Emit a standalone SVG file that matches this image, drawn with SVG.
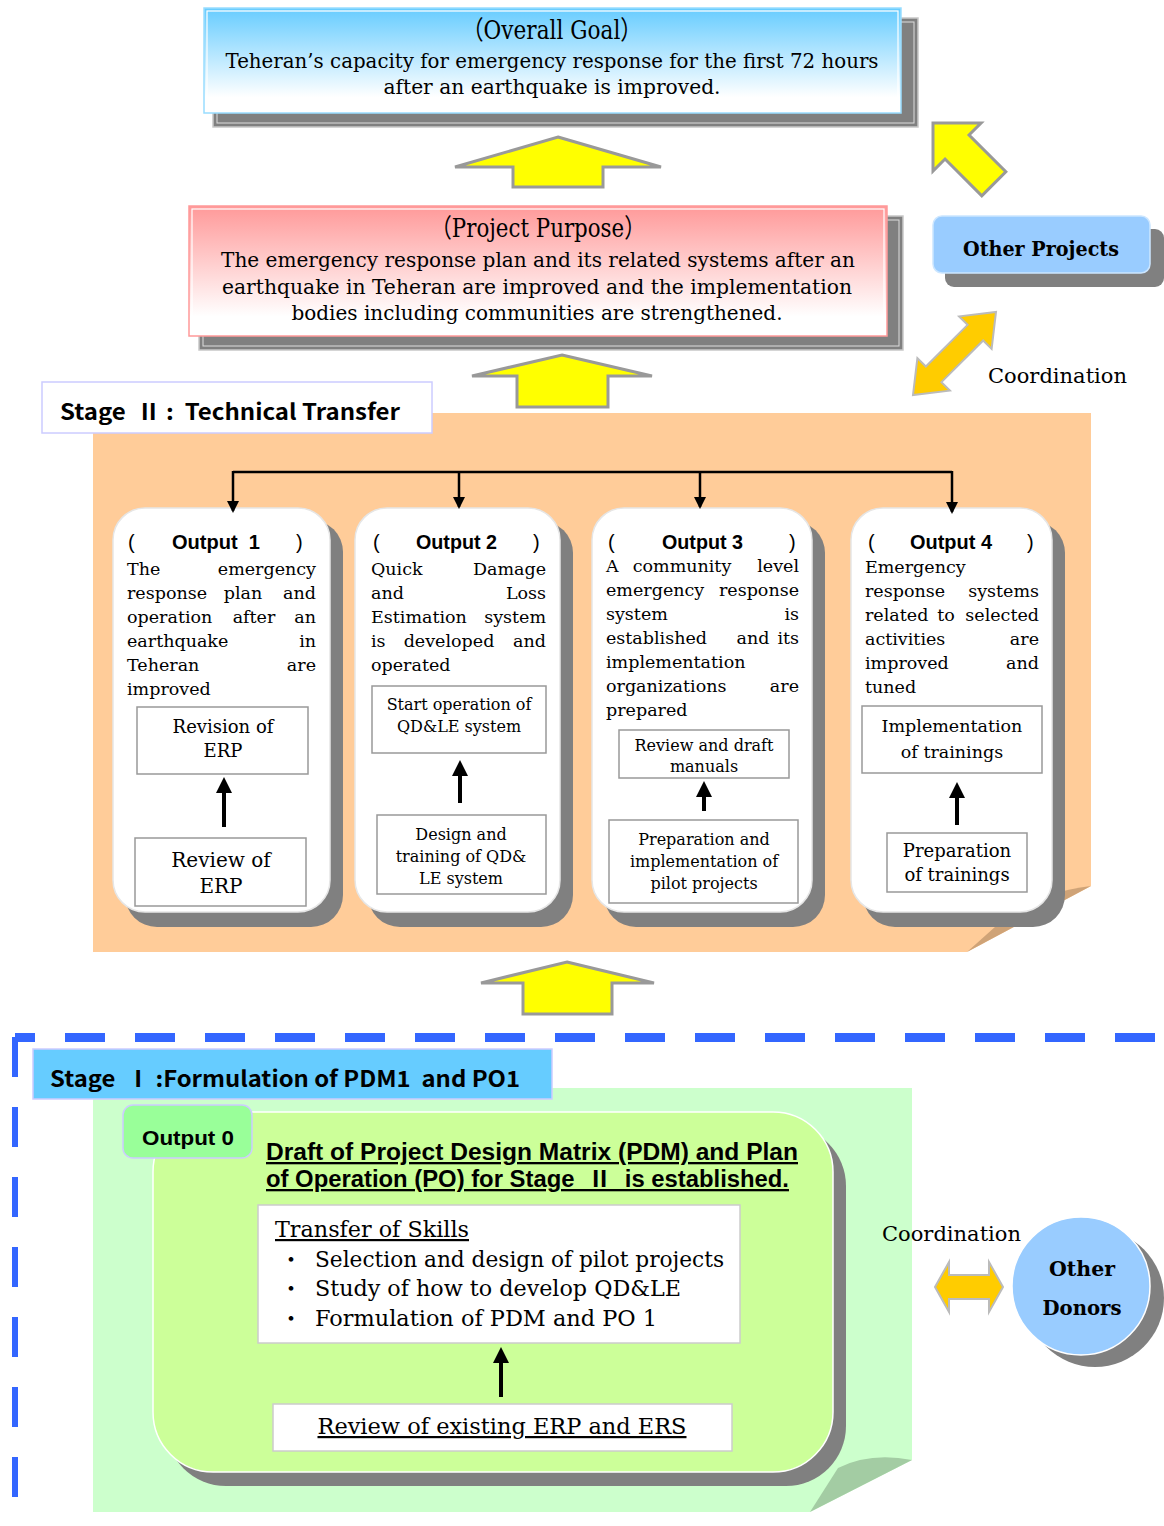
<svg xmlns="http://www.w3.org/2000/svg" width="1164" height="1526" viewBox="0 0 1164 1526">
<defs>
<linearGradient id="gBlue" x1="0" y1="0" x2="0" y2="1">
<stop offset="0" stop-color="#66ccff"/><stop offset="0.85" stop-color="#ffffff"/></linearGradient>
<linearGradient id="gPink" x1="0" y1="0" x2="0" y2="1">
<stop offset="0" stop-color="#ff9999"/><stop offset="0.85" stop-color="#ffffff"/></linearGradient>
<marker id="ahS" markerUnits="userSpaceOnUse" markerWidth="12" markerHeight="12" refX="10" refY="6" orient="auto"><path d="M0,0 L12,6 L0,12 z" fill="#000"/></marker>
<marker id="ahB" markerUnits="userSpaceOnUse" markerWidth="16" markerHeight="16" refX="12" refY="8" orient="auto"><path d="M0,0 L16,8 L0,16 z" fill="#000"/></marker>
<style>
.serif{font-family:"DejaVu Serif","Noto Sans CJK JP",serif;fill:#000}
.sans{font-family:"Liberation Sans","Noto Sans CJK JP",sans-serif;fill:#000}
.cjk{font-family:"Noto Sans CJK JP","Liberation Sans",sans-serif;fill:#000;font-weight:bold}
.body{font-size:17.5px;font-family:"DejaVu Serif",serif}
.hd{font-size:20px;font-weight:bold}
.shadow{fill:#808080}
.obox{fill:#ffffff;stroke:#e6e6e6;stroke-width:1.5}
.ibox{fill:#ffffff;stroke:#999999;stroke-width:1.5}
.yarrow{fill:#ffff00;stroke:#999999;stroke-width:3;stroke-linejoin:miter}
.oarrow{fill:#ffcc00;stroke:#bbbbbb;stroke-width:2}
.conn{stroke:#000;stroke-width:2.5;fill:none}
.up{stroke:#000;stroke-width:4;fill:none}
.mid{text-anchor:middle}
.end{text-anchor:end}
</style>
</defs>
<rect width="1164" height="1526" fill="#ffffff"/>

<!-- backgrounds -->
<g id="stage2-bg">
<path d="M93,413 H1091 V886 L967,952 H93 Z" fill="#ffcc99"/>
<path d="M1091,886 Q1040,892 1005,918 L967,952 Z" fill="#cfa377"/>
</g>
<g id="stage1-bg">
<path d="M93,1088 H912 V1460 L810,1512 H93 Z" fill="#ccffcc"/>
<path d="M912,1460 Q870,1452 838,1468 L810,1512 Z" fill="#a3cca3"/>
<path d="M15,1497 V1037" stroke="#3366ff" stroke-width="6" stroke-dasharray="40 30" fill="none"/>
<path d="M15,1037.5 H1160" stroke="#3366ff" stroke-width="9" stroke-dasharray="20 30 40 30 40 30 40 30 40 30 40 30 40 30 40 30 40 30 40 30 40 30 40 30 40 30 40 30 40 30 40 30 40 30" fill="none"/>
</g>

<!-- Overall goal -->
<g id="overall-goal">
<rect x="213" y="18" width="705" height="109" class="shadow" stroke="#c8c8c8" stroke-width="1.5"/>
<rect x="217" y="22" width="697" height="101" fill="none" stroke="#dddddd" stroke-width="1"/>
<rect x="204" y="8" width="697" height="105" fill="url(#gBlue)" stroke="#99ddff" stroke-width="1.5"/>
<rect x="207" y="11" width="691" height="99" fill="none" stroke="#ffffff" stroke-width="1.2"/>
<text x="552" y="39" class="serif mid" font-size="26" textLength="180" lengthAdjust="spacingAndGlyphs">（Overall Goal）</text>
<text x="552" y="68" class="serif mid" font-size="20" textLength="653" lengthAdjust="spacingAndGlyphs">Teheran’s capacity for emergency response for the first 72 hours</text>
<text x="552" y="94" class="serif mid" font-size="20" textLength="337" lengthAdjust="spacingAndGlyphs">after an earthquake is improved.</text>
</g>

<!-- Project purpose -->
<g id="project-purpose">
<rect x="199" y="216" width="704" height="134" class="shadow" stroke="#c8c8c8" stroke-width="1.5"/>
<rect x="203" y="220" width="696" height="126" fill="none" stroke="#dddddd" stroke-width="1"/>
<rect x="189" y="206" width="698" height="130" fill="url(#gPink)" stroke="#ff9999" stroke-width="1.5"/>
<rect x="192" y="209" width="692" height="124" fill="none" stroke="#ffffff" stroke-width="1.2"/>
<text x="538" y="237" class="serif mid" font-size="26" textLength="215" lengthAdjust="spacingAndGlyphs">（Project Purpose）</text>
<text x="538" y="267" class="serif mid" font-size="20" textLength="634" lengthAdjust="spacingAndGlyphs">The emergency response plan and its related systems after an</text>
<text x="537" y="294" class="serif mid" font-size="20" textLength="630" lengthAdjust="spacingAndGlyphs">earthquake in Teheran are improved and the implementation</text>
<text x="537" y="320" class="serif mid" font-size="20" textLength="491" lengthAdjust="spacingAndGlyphs">bodies including communities are strengthened.</text>
</g>

<!-- Other projects -->
<g id="other-projects">
<rect x="945" y="229" width="219" height="58" rx="9" class="shadow"/>
<rect x="933" y="216" width="217" height="57" rx="9" fill="#99ccff" stroke="#cce6ff" stroke-width="1.5"/>
<text x="1041" y="256" class="serif mid" font-size="21" font-weight="bold" textLength="156" lengthAdjust="spacingAndGlyphs">Other Projects</text>
</g>

<!-- big arrows -->
<g id="arrows">
<polygon class="yarrow" points="558,137 661,167 603,167 603,187 513,187 513,167 455,167"/>
<polygon class="yarrow" points="562,355 652,376 608,376 608,407 517,407 517,376 472,376"/>
<polygon class="yarrow" points="567,962 654,983 612,983 612,1014 523,1014 523,983 481,983"/>
<polygon class="yarrow" stroke-width="2" stroke="#cccccc" transform="translate(933,123) rotate(45)" points="0,0 34,-34 34,-17 86,-17 86,17 34,17 34,34"/>
<polygon class="oarrow" transform="translate(954.5,353.5) rotate(-45)" points="-58.7,0 -29.5,-23 -29.5,-11 29.5,-11 29.5,-23 58.7,0 29.5,23 29.5,11 -29.5,11 -29.5,23"/>
<polygon class="oarrow" points="935,1287 949,1262 949,1275 989,1275 989,1262 1003,1287 989,1312 989,1299 949,1299 949,1312"/>
</g>
<text x="988" y="383" class="serif" font-size="20.5" textLength="139" lengthAdjust="spacingAndGlyphs">Coordination</text>

<!-- Stage II label -->
<g id="stage2-label">
<rect x="42" y="382" width="390" height="51" fill="#ffffff" stroke="#ccccff" stroke-width="1.5"/>
<text x="60" y="420" class="cjk" font-size="22" textLength="340" lengthAdjust="spacingAndGlyphs" xml:space="preserve">Stage  Ⅱ :  Technical Transfer</text>
</g>

<!-- Output 1 -->
<g id="output1">
<rect x="125" y="520" width="218" height="407" rx="32" class="shadow"/>
<rect x="113" y="508" width="217" height="404" rx="32" class="obox"/>
<text x="128" y="549" class="sans" font-size="20">(</text>
<text x="172" y="549" class="sans hd" textLength="88" lengthAdjust="spacingAndGlyphs" xml:space="preserve">Output  1</text>
<text x="296" y="549" class="sans" font-size="20">)</text>
<g class="body">
<text x="127" y="575">The</text><text x="316" y="575" class="end">emergency</text>
<text x="127" y="599">response</text><text x="243" y="599" class="mid">plan</text><text x="316" y="599" class="end">and</text>
<text x="127" y="623">operation</text><text x="254" y="623" class="mid">after</text><text x="316" y="623" class="end">an</text>
<text x="127" y="647">earthquake</text><text x="316" y="647" class="end">in</text>
<text x="127" y="671">Teheran</text><text x="316" y="671" class="end">are</text>
<text x="127" y="695">improved</text>
</g>
<rect x="137" y="707" width="171" height="67" class="ibox"/>
<text x="223" y="733" class="serif mid" font-size="18">Revision of</text>
<text x="223" y="757" class="serif mid" font-size="18">ERP</text>
<rect x="135" y="838" width="171" height="68" class="ibox"/>
<text x="221" y="867" class="serif mid" font-size="20">Review of</text>
<text x="221" y="893" class="serif mid" font-size="20">ERP</text>
</g>

<!-- Output 2 -->
<g id="output2">
<rect x="368" y="521" width="205" height="406" rx="32" class="shadow"/>
<rect x="355" y="508" width="205" height="404" rx="32" class="obox"/>
<text x="373" y="549" class="sans" font-size="20">(</text>
<text x="416" y="549" class="sans hd" textLength="81" lengthAdjust="spacingAndGlyphs">Output 2</text>
<text x="533" y="549" class="sans" font-size="20">)</text>
<g class="body">
<text x="371" y="575">Quick</text><text x="546" y="575" class="end">Damage</text>
<text x="371" y="599">and</text><text x="546" y="599" class="end">Loss</text>
<text x="371" y="623">Estimation</text><text x="546" y="623" class="end">system</text>
<text x="371" y="647">is</text><text x="449" y="647" class="mid">developed</text><text x="546" y="647" class="end">and</text>
<text x="371" y="671">operated</text>
</g>
<rect x="372" y="686" width="174" height="67" class="ibox"/>
<text x="459" y="710" class="serif mid" font-size="16">Start operation of</text>
<text x="459" y="732" class="serif mid" font-size="16">QD&amp;LE system</text>
<rect x="377" y="815" width="169" height="79" class="ibox"/>
<text x="461" y="840" class="serif mid" font-size="16">Design and</text>
<text x="461" y="862" class="serif mid" font-size="16">training of QD&amp;</text>
<text x="461" y="884" class="serif mid" font-size="16">LE system</text>
</g>

<!-- Output 3 -->
<g id="output3">
<rect x="604" y="521" width="221" height="406" rx="32" class="shadow"/>
<rect x="592" y="508" width="220" height="404" rx="32" class="obox"/>
<text x="608" y="549" class="sans" font-size="20">(</text>
<text x="662" y="549" class="sans hd" textLength="81" lengthAdjust="spacingAndGlyphs">Output 3</text>
<text x="789" y="549" class="sans" font-size="20">)</text>
<g class="body">
<text x="606" y="572">A</text><text x="682" y="572" class="mid">community</text><text x="799" y="572" class="end">level</text>
<text x="606" y="596">emergency</text><text x="799" y="596" class="end">response</text>
<text x="606" y="620">system</text><text x="799" y="620" class="end">is</text>
<text x="606" y="644">established</text><text x="753" y="644" class="mid">and</text><text x="799" y="644" class="end">its</text>
<text x="606" y="668">implementation</text>
<text x="606" y="692">organizations</text><text x="799" y="692" class="end">are</text>
<text x="606" y="716">prepared</text>
</g>
<rect x="619" y="730" width="170" height="48" class="ibox"/>
<text x="704" y="751" class="serif mid" font-size="16">Review and draft</text>
<text x="704" y="772" class="serif mid" font-size="16">manuals</text>
<rect x="609" y="820" width="189" height="83" class="ibox"/>
<text x="704" y="845" class="serif mid" font-size="16">Preparation and</text>
<text x="704" y="867" class="serif mid" font-size="16">implementation of</text>
<text x="704" y="889" class="serif mid" font-size="16">pilot projects</text>
</g>

<!-- Output 4 -->
<g id="output4">
<rect x="863" y="521" width="202" height="406" rx="32" class="shadow"/>
<rect x="851" y="508" width="201" height="404" rx="32" class="obox"/>
<text x="868" y="549" class="sans" font-size="20">(</text>
<text x="910" y="549" class="sans hd" textLength="82" lengthAdjust="spacingAndGlyphs">Output 4</text>
<text x="1027" y="549" class="sans" font-size="20">)</text>
<g class="body">
<text x="865" y="573">Emergency</text>
<text x="865" y="597">response</text><text x="1039" y="597" class="end">systems</text>
<text x="865" y="621">related</text><text x="946" y="621" class="mid">to</text><text x="1039" y="621" class="end">selected</text>
<text x="865" y="645">activities</text><text x="1039" y="645" class="end">are</text>
<text x="865" y="669">improved</text><text x="1039" y="669" class="end">and</text>
<text x="865" y="693">tuned</text>
</g>
<rect x="862" y="706" width="180" height="67" class="ibox"/>
<text x="952" y="732" class="serif mid" font-size="17.5">Implementation</text>
<text x="952" y="758" class="serif mid" font-size="17.5">of trainings</text>
<rect x="887" y="833" width="140" height="59" class="ibox"/>
<text x="957" y="857" class="serif mid" font-size="18">Preparation</text>
<text x="957" y="881" class="serif mid" font-size="18">of trainings</text>
</g>

<!-- Stage I label -->
<g id="stage1-label">
<rect x="33" y="1049" width="519" height="50" fill="#66ccff" stroke="#ccccff" stroke-width="1.5"/>
<text x="50" y="1087" class="cjk" font-size="22" textLength="470" lengthAdjust="spacingAndGlyphs" xml:space="preserve">Stage  Ⅰ :Formulation of PDM1  and PO1</text>
</g>

<!-- Output 0 -->
<g id="output0">
<rect x="166" y="1126" width="680" height="360" rx="60" class="shadow"/>
<rect x="153" y="1112" width="680" height="360" rx="60" fill="#ccff99" stroke="#ffffff" stroke-width="1.5"/>
<text x="266" y="1160" class="sans" font-size="23" font-weight="bold" text-decoration="underline" textLength="532" lengthAdjust="spacingAndGlyphs">Draft of Project Design Matrix (PDM) and Plan</text>
<text x="266" y="1187" class="sans" font-size="23" font-weight="bold" text-decoration="underline" textLength="523" lengthAdjust="spacingAndGlyphs" xml:space="preserve">of Operation (PO) for Stage  Ⅱ  is established.</text>
<rect x="258" y="1205" width="482" height="138" fill="#ffffff" stroke="#cccccc" stroke-width="1.5"/>
<text x="275" y="1237" class="serif" font-size="22" text-decoration="underline" textLength="194" lengthAdjust="spacingAndGlyphs">Transfer of Skills</text>
<text x="280" y="1267" class="serif" font-size="22">・</text>
<text x="315" y="1267" class="serif" font-size="22" textLength="409" lengthAdjust="spacingAndGlyphs">Selection and design of pilot projects</text>
<text x="280" y="1296" class="serif" font-size="22">・</text>
<text x="315" y="1296" class="serif" font-size="22" textLength="366" lengthAdjust="spacingAndGlyphs">Study of how to develop QD&amp;LE</text>
<text x="280" y="1326" class="serif" font-size="22">・</text>
<text x="315" y="1326" class="serif" font-size="22" textLength="342" lengthAdjust="spacingAndGlyphs">Formulation of PDM and PO 1</text>
<rect x="273" y="1404" width="459" height="47" fill="#ffffff" stroke="#cccccc" stroke-width="1.5"/>
<text x="502" y="1434" class="serif mid" font-size="22" text-decoration="underline" textLength="369" lengthAdjust="spacingAndGlyphs">Review of existing ERP and ERS</text>
</g>
<g id="output0-tag">
<rect x="123" y="1105" width="129" height="53" rx="10" fill="#99ff99" stroke="#ccccff" stroke-width="1.5"/>
<text x="188" y="1145" class="sans mid" font-size="20" font-weight="bold" textLength="92" lengthAdjust="spacingAndGlyphs">Output 0</text>
</g>

<text x="882" y="1241" class="serif" font-size="20.5" textLength="139" lengthAdjust="spacingAndGlyphs">Coordination</text>

<!-- Other donors -->
<g id="other-donors">
<circle cx="1095" cy="1298" r="69" class="shadow"/>
<circle cx="1081" cy="1286" r="69" fill="#99ccff" stroke="#ffffff" stroke-width="1.5"/>
<text x="1082" y="1276" class="serif mid" font-size="21" font-weight="bold" textLength="66" lengthAdjust="spacingAndGlyphs">Other</text>
<text x="1082" y="1315" class="serif mid" font-size="21" font-weight="bold" textLength="79" lengthAdjust="spacingAndGlyphs">Donors</text>
</g>

<!-- connectors (drawn on top) -->
<g id="connectors">
<path class="conn" d="M233,472 H952"/>
<path class="conn" d="M233,471 V511" marker-end="url(#ahS)"/>
<path class="conn" d="M459,472 V507" marker-end="url(#ahS)"/>
<path class="conn" d="M700,472 V507" marker-end="url(#ahS)"/>
<path class="conn" d="M952,471 V512" marker-end="url(#ahS)"/>
<path class="up" d="M224,827 V781" marker-end="url(#ahB)"/>
<path class="up" d="M460,803 V764" marker-end="url(#ahB)"/>
<path class="up" d="M704,811 V785" marker-end="url(#ahB)"/>
<path class="up" d="M957,825 V786" marker-end="url(#ahB)"/>
<path class="up" d="M501,1397 V1351" marker-end="url(#ahB)"/>
</g>
</svg>
